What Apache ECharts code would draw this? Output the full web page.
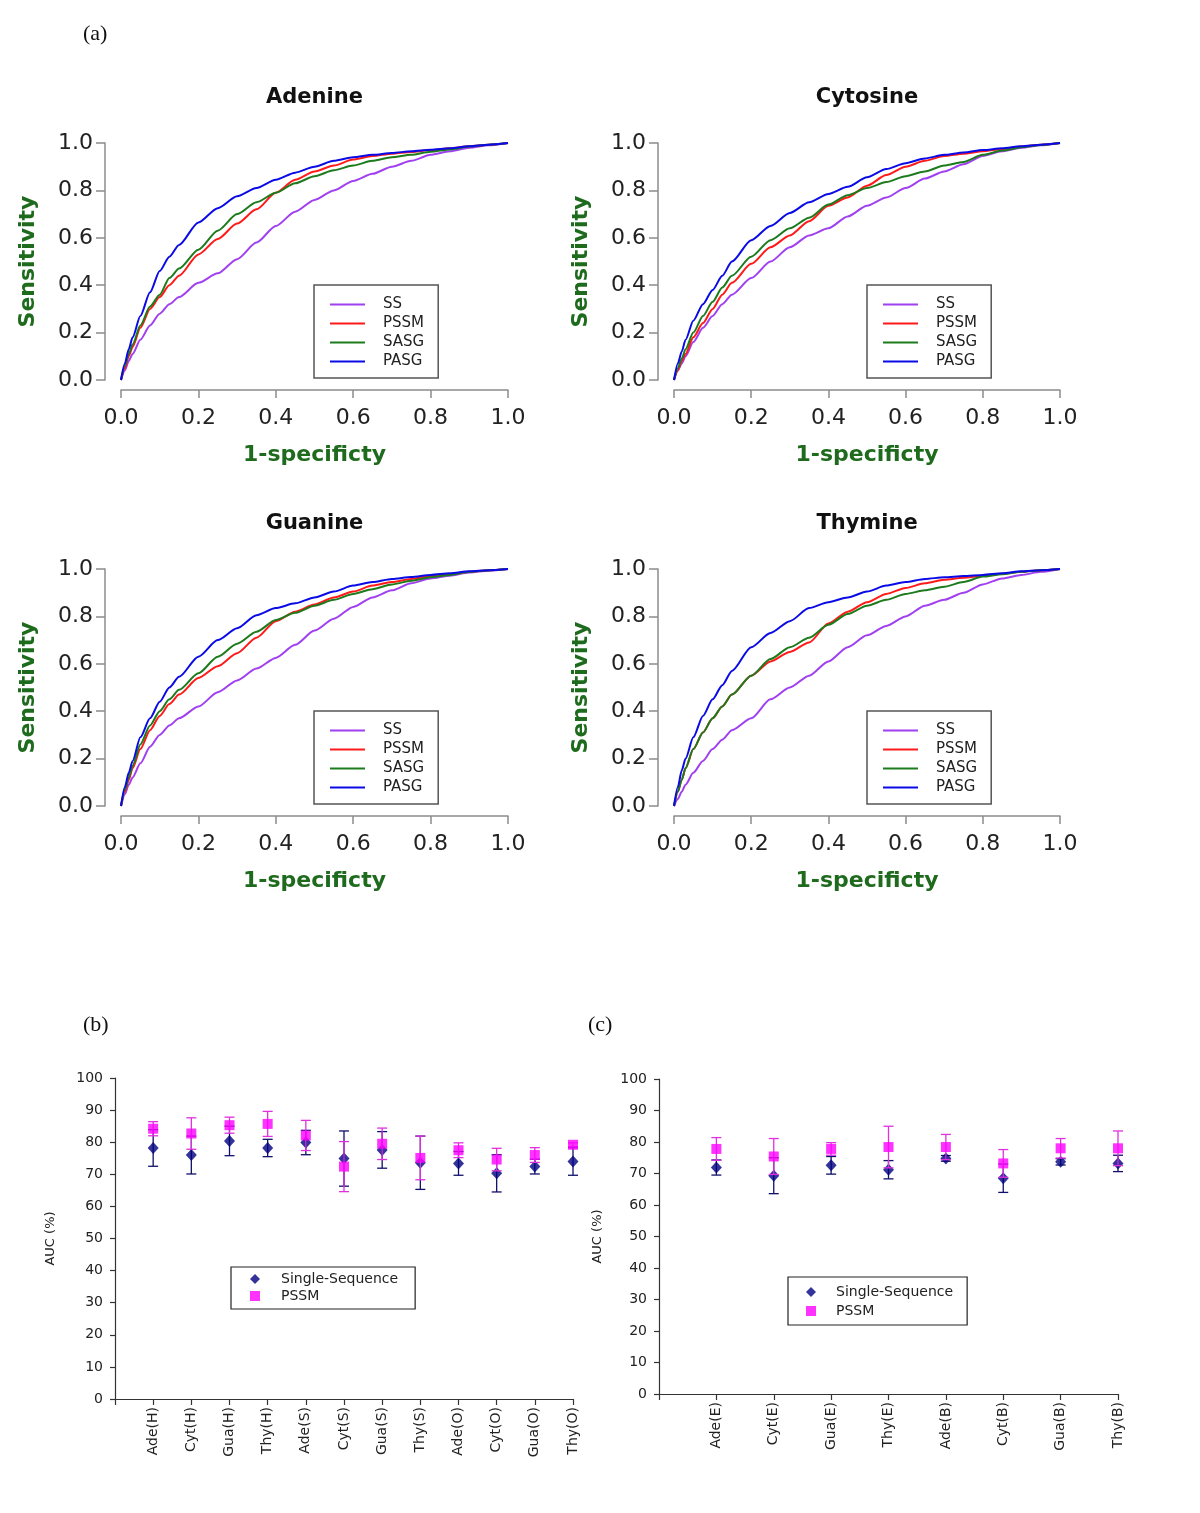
<!DOCTYPE html>
<html><head><meta charset="utf-8">
<script src="https://cdn.jsdelivr.net/npm/echarts@6/dist/echarts.min.js"></script>
<style>html,body{margin:0;padding:0;background:#fff}#c{width:1200px;height:1513px}</style>
</head><body><div id="c"></div>
<script>
// ---------- ROC data (1-specificity grid, sensitivity per method) ----------
const fpr = [0,0.01,0.02,0.03,0.05,0.075,0.1,0.125,0.15,0.2,0.25,0.3,0.35,0.4,0.45,0.5,0.55,0.6,0.65,0.7,0.75,0.8,0.85,0.9,0.95,1.0];

const adenineSS   = [0,.04,.08,.11,.17,.23,.28,.32,.35,.41,.45,.51,.58,.65,.71,.76,.80,.84,.87,.90,.925,.95,.965,.98,.99,1];
const adeninePSSM = [0,.05,.10,.14,.22,.30,.35,.40,.44,.53,.595,.66,.72,.79,.845,.88,.905,.93,.945,.955,.962,.97,.978,.986,.993,1];
const adenineSASG = [0,.06,.11,.15,.23,.31,.36,.43,.47,.55,.63,.70,.75,.79,.83,.86,.885,.905,.925,.94,.95,.963,.973,.985,.993,1];
const adeninePASG = [0,.07,.13,.18,.27,.37,.46,.52,.57,.665,.725,.775,.81,.845,.875,.90,.925,.94,.95,.958,.965,.972,.978,.986,.993,1];

const cytosineSS   = [0,.04,.07,.10,.16,.22,.27,.32,.36,.43,.50,.56,.61,.64,.69,.735,.77,.81,.85,.88,.91,.945,.965,.98,.99,1];
const cytosinePSSM = [0,.04,.08,.11,.18,.24,.30,.36,.41,.49,.56,.61,.67,.735,.77,.82,.865,.90,.925,.945,.955,.965,.975,.985,.993,1];
const cytosineSASG = [0,.05,.09,.13,.20,.27,.33,.39,.44,.52,.59,.64,.685,.74,.78,.81,.835,.86,.88,.905,.92,.95,.968,.982,.992,1];
const cytosinePASG = [0,.07,.12,.17,.25,.32,.38,.44,.50,.59,.65,.705,.75,.785,.815,.855,.89,.915,.935,.95,.96,.97,.978,.986,.993,1];

const guanineSS   = [0,.05,.09,.12,.18,.25,.30,.34,.37,.42,.48,.53,.58,.625,.68,.74,.79,.84,.88,.91,.94,.96,.972,.985,.993,1];
const guaninePSSM = [0,.06,.11,.16,.24,.32,.38,.43,.47,.54,.59,.645,.71,.78,.82,.85,.88,.905,.93,.945,.958,.97,.978,.988,.995,1];
const guanineSASG = [0,.07,.12,.17,.26,.34,.40,.45,.49,.56,.63,.685,.735,.785,.815,.845,.87,.895,.915,.935,.95,.965,.975,.988,.995,1];
const guaninePASG = [0,.08,.14,.19,.29,.37,.44,.50,.545,.63,.70,.75,.805,.835,.855,.88,.905,.93,.945,.958,.966,.975,.982,.99,.995,1];

const thymineSS   = [0,.03,.06,.09,.14,.19,.24,.28,.32,.37,.45,.50,.55,.61,.67,.72,.76,.80,.845,.87,.90,.935,.96,.975,.988,1];
const thyminePSSM = [0,.06,.11,.16,.24,.31,.37,.42,.47,.55,.61,.65,.69,.77,.82,.86,.895,.92,.94,.955,.963,.972,.98,.988,.995,1];
const thymineSASG = [0,.06,.11,.16,.24,.31,.37,.42,.47,.55,.62,.67,.71,.765,.81,.845,.87,.895,.91,.925,.945,.968,.978,.988,.995,1];
const thyminePASG = [0,.08,.15,.20,.29,.38,.45,.51,.57,.67,.73,.78,.835,.86,.88,.905,.93,.945,.958,.965,.97,.975,.982,.99,.995,1];

const rocTitles = ['Adenine','Cytosine','Guanine','Thymine'];
const rocMethods = ['SS','PSSM','SASG','PASG'];

// ---------- AUC data ----------
const catsB = ['Ade(H)','Cyt(H)','Gua(H)','Thy(H)','Ade(S)','Cyt(S)','Gua(S)','Thy(S)','Ade(O)','Cyt(O)','Gua(O)','Thy(O)'];
const ssB      = [78.2,76.0,80.4,78.2,79.9,74.9,77.6,73.6,73.4,70.3,72.4,74.0];
const ssErrB   = [5.7,5.9,4.6,2.7,3.8,8.6,5.7,8.3,3.7,5.8,2.3,4.3];
const pssmB    = [84.2,82.7,85.3,85.7,82.1,72.4,79.5,75.1,77.5,74.6,76.0,79.2];
const pssmErrB = [2.2,4.9,2.5,3.9,4.7,7.8,4.9,6.8,2.3,3.5,2.3,0.6];

const catsC = ['Ade(E)','Cyt(E)','Gua(E)','Thy(E)','Ade(B)','Cyt(B)','Gua(B)','Thy(B)'];
const ssC      = [71.9,69.3,72.6,71.2,74.8,68.5,73.7,73.2];
const ssErrC   = [2.4,5.7,2.8,2.9,0.9,4.5,1.0,2.6];
const pssmC    = [77.8,75.4,77.8,78.4,78.4,73.2,78.0,78.0];
const pssmErrC = [3.6,5.7,2.0,6.6,4.0,4.4,3.1,5.5];

// ---------- styling ----------
const rocColors = {SS:'#a040f0', PSSM:'#ff1a1a', SASG:'#1d7a1d', PASG:'#0a0ae6'};
const greenTxt = '#1e6b1e';
const navy = '#000080', magenta = '#ff00ff';

const rocData = [
  [adenineSS, adeninePSSM, adenineSASG, adeninePASG],
  [cytosineSS, cytosinePSSM, cytosineSASG, cytosinePASG],
  [guanineSS, guaninePSSM, guanineSASG, guaninePASG],
  [thymineSS, thyminePSSM, thymineSASG, thyminePASG]
];
const rocGrids = [
  {left:121, top:143, width:387, height:237},
  {left:674, top:143, width:386, height:237},
  {left:121, top:569, width:387, height:237},
  {left:674, top:569, width:386, height:237}
];
const legendPos = [[314,285],[867,285],[314,711],[867,711]];

const grid = [], xAxis = [], yAxis = [], series = [], title = [], legend = [];
const axisGray = '#8c8c8c';
rocGrids.forEach((g, i) => {
  grid.push(g);
  title.push({text: rocTitles[i], left: g.left + g.width/2, top: g.top - 56, textAlign:'center', padding:0,
    textStyle:{fontFamily:'DejaVu Sans', fontWeight:'bold', fontSize:21, color:'#111'}});
  xAxis.push({type:'value', gridIndex:i, min:0, max:1, interval:0.2, offset:10,
    name:'1-specificty', nameLocation:'middle', nameGap:54,
    nameTextStyle:{fontFamily:'DejaVu Sans', fontWeight:'bold', fontSize:22, color:greenTxt},
    axisLine:{show:true, onZero:false, lineStyle:{color:axisGray, width:1.5}},
    axisTick:{show:true, length:8, lineStyle:{color:axisGray, width:1.5}},
    axisLabel:{margin:17, fontFamily:'DejaVu Sans', fontSize:22, color:'#222', formatter:v=>v.toFixed(1)},
    splitLine:{show:false}});
  yAxis.push({type:'value', gridIndex:i, min:0, max:1, interval:0.2, offset:16,
    name:'Sensitivity', nameLocation:'middle', nameGap:66,
    nameTextStyle:{fontFamily:'DejaVu Sans', fontWeight:'bold', fontSize:22, color:greenTxt},
    axisLine:{show:true, onZero:false, lineStyle:{color:axisGray, width:1.5}},
    axisTick:{show:true, length:9, lineStyle:{color:axisGray, width:1.5}},
    axisLabel:{margin:12, fontFamily:'DejaVu Sans', fontSize:22, color:'#222', formatter:v=>v.toFixed(1)},
    splitLine:{show:false}});
  rocMethods.forEach((m, k) => {
    series.push({type:'line', name:m, xAxisIndex:i, yAxisIndex:i, symbol:'none', smooth:0.25, smoothMonotone:'x',
      data: fpr.map((x, j) => [x, rocData[i][k][j]]),
      lineStyle:{color:rocColors[m], width:2}, itemStyle:{color:rocColors[m]}, z:2+k});
  });
  legend.push({orient:'vertical', left:legendPos[i][0], top:legendPos[i][1],
    data:rocMethods.map(m => ({name:m, icon:'rect'})),
    itemWidth:35, itemHeight:2, itemGap:4, padding:[12,14,9,16],
    borderColor:'#555', borderWidth:1.5, borderRadius:0, selectedMode:false,
    textStyle:{fontFamily:'DejaVu Sans', fontSize:15, color:'#222', lineHeight:14, padding:[0,0,0,13]}});
});

// AUC panels
function errRender(color){
  return function(params, api){
    const x = api.value(0), lo = api.value(1), hi = api.value(2);
    const p1 = api.coord([x, hi]), p2 = api.coord([x, lo]);
    const w = 5, st = {stroke:color, lineWidth:1.3};
    return {type:'group', children:[
      {type:'line', shape:{x1:p1[0], y1:p1[1], x2:p2[0], y2:p2[1]}, style:st},
      {type:'line', shape:{x1:p1[0]-w, y1:p1[1], x2:p1[0]+w, y2:p1[1]}, style:st},
      {type:'line', shape:{x1:p2[0]-w, y1:p2[1], x2:p2[0]+w, y2:p2[1]}, style:st}
    ]};
  };
}
const aucPanels = [
  {grid:{left:115, top:1078, width:458, height:321}, cats:catsB, ss:ssB, ssE:ssErrB, ps:pssmB, psE:pssmErrB,
   legend:{left:231, top:1267, padding:[5,17,6,19], gap:3, tpad:16}, nameGap:58},
  {grid:{left:659, top:1079, width:459, height:315}, cats:catsC, ss:ssC, ssE:ssErrC, ps:pssmC, psE:pssmErrC,
   legend:{left:788, top:1277, padding:[8,14,7,18], gap:5, tpad:15}, nameGap:55}
];
const aucText = {fontFamily:'DejaVu Sans', fontSize:14, color:'#222'};
aucPanels.forEach((p, n) => {
  const gi = 4 + n;
  grid.push(p.grid);
  xAxis.push({type:'category', gridIndex:gi, data:[''].concat(p.cats), boundaryGap:false,
    axisLine:{show:true, onZero:false, lineStyle:{color:'#333', width:1.2}},
    axisTick:{show:true, interval:0, length:6, lineStyle:{color:'#333', width:1.2}},
    axisLabel:{interval:0, rotate:90, margin:8, ...aucText},
    splitLine:{show:false}});
  yAxis.push({type:'value', gridIndex:gi, min:0, max:100, interval:10,
    name:'AUC (%)', nameLocation:'middle', nameGap:p.nameGap,
    nameTextStyle:{fontFamily:'DejaVu Sans', fontSize:13, color:'#222'},
    axisLine:{show:true, lineStyle:{color:'#333', width:1.2}},
    axisTick:{show:true, length:5, lineStyle:{color:'#333', width:1.2}},
    axisLabel:{margin:12, ...aucText},
    splitLine:{show:false}});
  series.push({type:'custom', name:'SS err', xAxisIndex:gi, yAxisIndex:gi, renderItem:errRender('#10106a'),
    encode:{x:0, y:[1,2]}, data:p.cats.map((c,i)=>[c, p.ss[i]-p.ssE[i], p.ss[i]+p.ssE[i]]), z:3});
  series.push({type:'scatter', name:'Single-Sequence', xAxisIndex:gi, yAxisIndex:gi, symbol:'diamond', symbolSize:[11,12],
    itemStyle:{color:navy}, data:p.cats.map((c,i)=>[c, p.ss[i]]), z:4});
  series.push({type:'custom', name:'PSSM err', xAxisIndex:gi, yAxisIndex:gi, renderItem:errRender('#e030e0'),
    encode:{x:0, y:[1,2]}, data:p.cats.map((c,i)=>[c, p.ps[i]-p.psE[i], p.ps[i]+p.psE[i]]), z:5});
  series.push({type:'scatter', name:'PSSM ', xAxisIndex:gi, yAxisIndex:gi, symbol:'rect', symbolSize:[10,10],
    itemStyle:{color:magenta}, data:p.cats.map((c,i)=>[c, p.ps[i]]), z:6});
  legend.push({orient:'vertical', left:p.legend.left, top:p.legend.top,
    data:[{name:'Single-Sequence', icon:'diamond'}, {name:'PSSM ', icon:'rect'}],
    formatter: nm => nm.trim(),
    itemWidth:10, itemHeight:10, itemGap:p.legend.gap, padding:p.legend.padding,
    borderColor:'#222', borderWidth:1.2, selectedMode:false,
    textStyle:{...aucText, lineHeight:14, padding:[0,0,0,p.legend.tpad]}});
});

const option = {
  backgroundColor:'#fff',
  animation:false,
  title, grid, xAxis, yAxis, series, legend,
  graphic:[
    {type:'text', left:83, top:23, style:{text:'(a)', font:'22px "Liberation Serif"', fill:'#111'}},
    {type:'text', left:83, top:1014, style:{text:'(b)', font:'22px "Liberation Serif"', fill:'#111'}},
    {type:'text', left:588, top:1014, style:{text:'(c)', font:'22px "Liberation Serif"', fill:'#111'}}
  ]
};
const chart = echarts.init(document.getElementById('c'), null, {renderer:'canvas'});
chart.setOption(option);
</script>
</body></html>
